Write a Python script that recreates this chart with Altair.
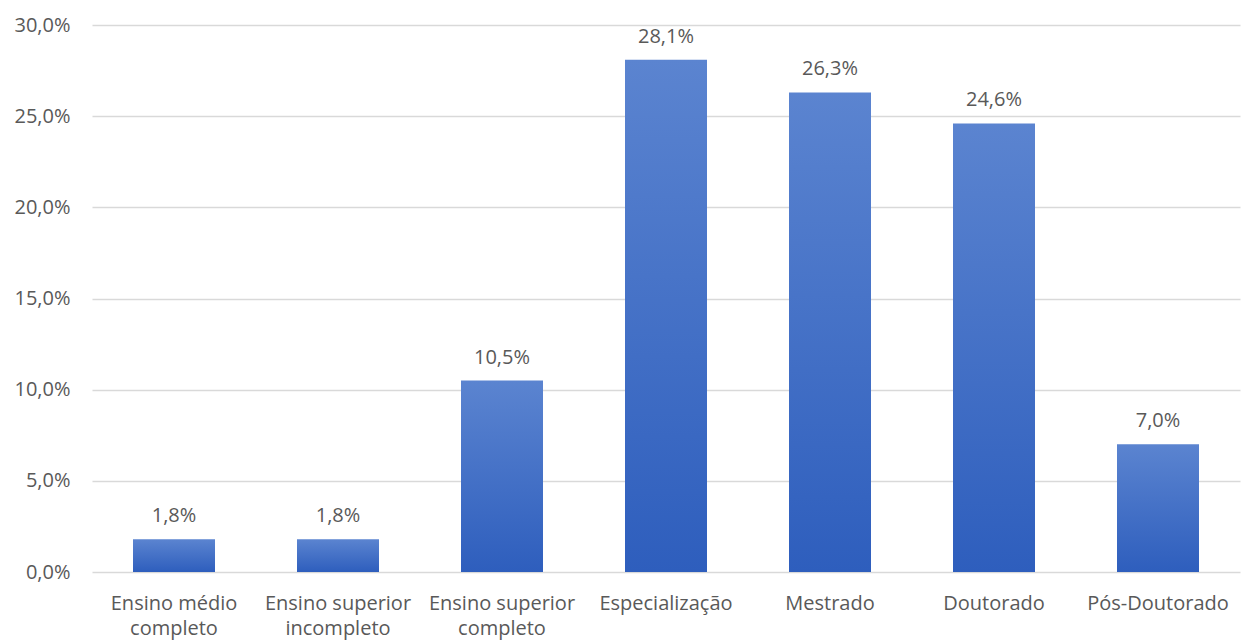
import altair as alt
import pandas as pd

categories = [
    "Ensino médio\ncompleto",
    "Ensino superior\nincompleto",
    "Ensino superior\ncompleto",
    "Especialização",
    "Mestrado",
    "Doutorado",
    "Pós-Doutorado",
]
values = [1.8, 1.8, 10.5, 28.1, 26.3, 24.6, 7.0]

df = pd.DataFrame({"cat": categories, "val": values})
df["label"] = df["val"].map(lambda v: f"{v:.1f}".replace(".", ",") + "%")

FONT = "Open Sans"
GREY = "#595959"

x = alt.X(
    "cat:N",
    sort=categories,
    title=None,
    scale=alt.Scale(paddingInner=0.5, paddingOuter=0.25),
    axis=alt.Axis(
        labelAngle=0,
        labelExpr="split(datum.label, '\\n')",
        labelFont=FONT,
        labelFontSize=20,
        labelColor=GREY,
        labelLineHeight=25,
        labelPadding=21,
        ticks=False,
        domain=False,
        grid=False,
    ),
)

y = alt.Y(
    "val:Q",
    title=None,
    scale=alt.Scale(domain=[0, 30], nice=False),
    axis=alt.Axis(
        values=[0, 5, 10, 15, 20, 25, 30],
        labelExpr="replace(format(datum.value, '.1f'), '.', ',') + '%'",
        labelFont=FONT,
        labelFontSize=20,
        labelColor=GREY,
        labelPadding=22,
        ticks=False,
        domain=False,
        grid=True,
        gridColor="#d9d9d9",
        gridWidth=1.5,
    ),
)

bars = alt.Chart(df).mark_bar(
    color=alt.Gradient(
        gradient="linear",
        x1=0, x2=0, y1=0, y2=1,
        stops=[
            alt.GradientStop(color="#5B84D0", offset=0),
            alt.GradientStop(color="#2E5EBD", offset=1),
        ],
    )
).encode(x=x, y=y)

labels = alt.Chart(df).mark_text(
    baseline="bottom", dy=-13, font=FONT, fontSize=20, color=GREY
).encode(x=alt.X("cat:N", sort=categories), y="val:Q", text="label:N")

chart = (
    alt.layer(bars, labels)
    .properties(
        width=1148,
        height=547,
        padding={"left": 92, "top": 25, "right": 2, "bottom": 70},
        autosize=alt.AutoSizeParams(type="none"),
        background="white",
    )
    .configure_view(stroke=None)
)

chart.save("out.html", embed_options={"renderer": "svg", "actions": False})
